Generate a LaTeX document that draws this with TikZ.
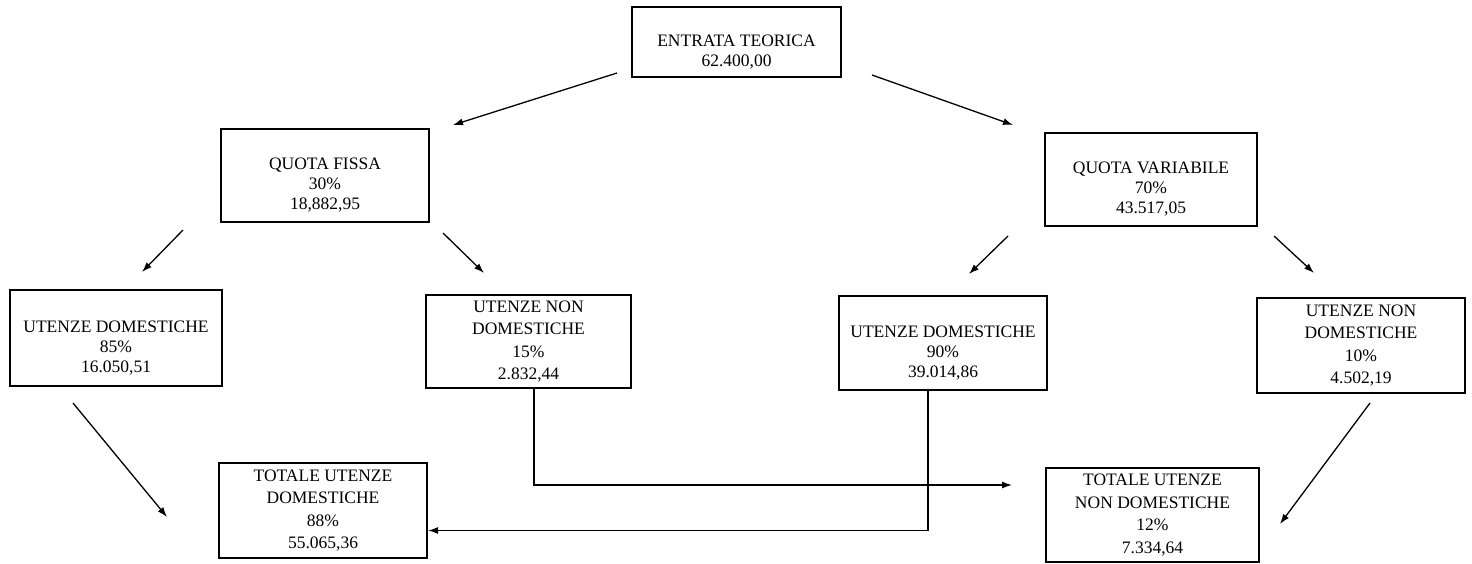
\documentclass[tikz,border=0pt]{standalone}
\usepackage{fontspec}
\setmainfont{Liberation Serif}
\usetikzlibrary{arrows.meta}
\begin{document}
\begin{tikzpicture}[x=1pt,y=-1pt,
  box/.style={draw, line width=2.2pt, rectangle, inner sep=0pt},
  txtA/.style={align=center, inner sep=0pt, font=\fontsize{17.5}{20}\selectfont},
  txtB/.style={align=center, inner sep=0pt, font=\fontsize{17.5}{22.5}\selectfont},
  arr/.style={line width=1.3pt, -{Latex[length=10pt,width=7pt]}}]
\fill[white] (0,0) rectangle (1472,563);
\useasboundingbox (0,0) rectangle (1472,563);

% boxes
\node[box, minimum width=209pt, minimum height=70pt] (et) at (736.5,42) {};
\node[box, minimum width=208pt, minimum height=93pt] (qf) at (325,175.5) {};
\node[box, minimum width=212pt, minimum height=93pt] (qv) at (1151,179.5) {};
\node[box, minimum width=212pt, minimum height=96pt] (ud1) at (116,338) {};
\node[box, minimum width=205pt, minimum height=93pt] (und1) at (528.5,341.5) {};
\node[box, minimum width=208pt, minimum height=94pt] (ud2) at (943,343) {};
\node[box, minimum width=208pt, minimum height=95pt] (und2) at (1361,345.5) {};
\node[box, minimum width=208pt, minimum height=95pt] (tud) at (323,510.5) {};
\node[box, minimum width=213pt, minimum height=94pt] (tund) at (1152.5,515) {};

% texts
\node[txtA] (ett) at ([yshift=-10pt]et.center) {ENTRATA TEORICA\\62.400,00};
\node[txtA] (qft) at ([yshift=-10pt]qf.center) {QUOTA FISSA\\30\%\\18,882,95};
\node[txtA] (qvt) at ([yshift=-10pt]qv.center) {QUOTA VARIABILE\\70\%\\43.517,05};
\node[txtA] (ud1t) at ([yshift=-10pt]ud1.center) {UTENZE DOMESTICHE\\85\%\\16.050,51};
\node[txtB] (und1t) at (und1.center) {UTENZE NON\\DOMESTICHE\\15\%\\2.832,44};
\node[txtA] (ud2t) at ([yshift=-10pt]ud2.center) {UTENZE DOMESTICHE\\90\%\\39.014,86};
\node[txtB] (und2t) at (und2.center) {UTENZE NON\\DOMESTICHE\\10\%\\4.502,19};
\node[txtB] (tudt) at (tud.center) {TOTALE UTENZE\\DOMESTICHE\\88\%\\55.065,36};
\node[txtB] (tundt) at (tund.center) {TOTALE UTENZE\\NON DOMESTICHE\\12\%\\7.334,64};

% arrow end points
\coordinate (a1s) at (617,73);   \coordinate (a1e) at (453,125);
\coordinate (a2s) at (872,75);   \coordinate (a2e) at (1013,125);
\coordinate (a3s) at (183,230);  \coordinate (a3e) at (142,272);
\coordinate (a4s) at (443,233);  \coordinate (a4e) at (484,273);
\coordinate (a5s) at (1008,236); \coordinate (a5e) at (969,274);
\coordinate (a6s) at (1274,236); \coordinate (a6e) at (1314,273);
\coordinate (a7s) at (73,403);   \coordinate (a7e) at (167,517);
\coordinate (a8s) at (1370,403); \coordinate (a8e) at (1280,524);
\coordinate (e1) at (1012,485);

\draw[arr] (a1s) -- (a1e);
\draw[arr] (a2s) -- (a2e);
\draw[arr] (a3s) -- (a3e);
\draw[arr] (a4s) -- (a4e);
\draw[arr] (a5s) -- (a5e);
\draw[arr] (a6s) -- (a6e);
\draw[arr] (a7s) -- (a7e);
\draw[arr] (a8s) -- (a8e);

% elbow connectors
\draw[arr] ([xshift=5.5pt]und1.south) |- (e1);
\draw[arr] ([xshift=-15pt]ud2.south) |- ([yshift=-20pt]tud.east);
\end{tikzpicture}
\end{document}
